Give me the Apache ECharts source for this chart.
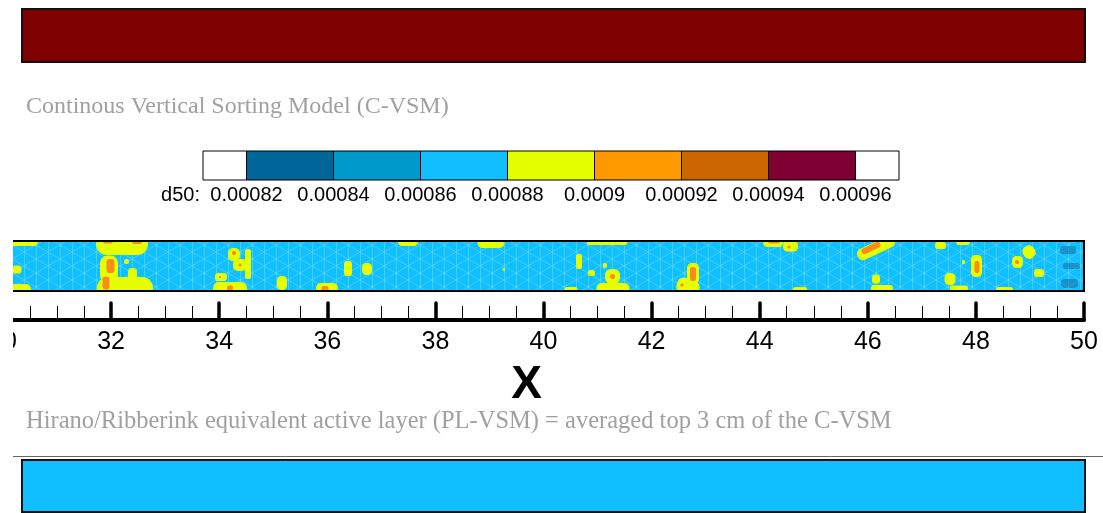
<!DOCTYPE html>
<html><head><meta charset="utf-8">
<script src="https://cdn.jsdelivr.net/npm/echarts@6/dist/echarts.min.js"></script>
<style>html,body{margin:0;padding:0;background:#fff}#c{width:1103px;height:513px}</style>
</head><body><div id="c"></div>
<script>
// ---- data ----
const binEdges = [0.00081, 0.00082, 0.00084, 0.00086, 0.00088, 0.00090, 0.00092, 0.00094, 0.00096, 0.00097];
const binColors = ['#ffffff', '#006699', '#0099cc', '#11bfff', '#e5ff00', '#ff9900', '#cc6600', '#7f0033', '#ffffff'];
const tickValues = [0.00082, 0.00084, 0.00086, 0.00088, 0.0009, 0.00092, 0.00094, 0.00096];
const tickLabels = ['0.00082', '0.00084', '0.00086', '0.00088', '0.0009', '0.00092', '0.00094', '0.00096'];
const xRange = [30, 50];
const xMajorStep = 2;
const topLayer = [[0, 1]];
const bottomLayer = [[0, 1]];
// patches: [x, yFraction, width(x units), height(fraction), rotation deg]
const yellowPatches = [
  [30.315, 1.0, 0.666, 0.2, 0], [30.24, 0.02, 0.555, 0.24, 0], [30.259, 0.43, 0.167, 0.16, 0],
  [32.202, 0.98, 0.962, 0.52, 0], [31.961, 0.44, 0.333, 0.54, 0], [32.257, 0.02, 1.036, 0.52, 0],
  [32.285, 0.59, 0.093, 0.1, 0], [32.396, 0.35, 0.167, 0.22, 0],
  [34.274, 0.73, 0.222, 0.26, 0], [34.385, 0.52, 0.259, 0.24, 0], [34.533, 0.54, 0.111, 0.6, 0],
  [34.033, 0.28, 0.222, 0.16, 0], [34.2, 0.04, 0.629, 0.28, 0], [35.162, 0.16, 0.185, 0.28, 0],
  [35.994, 0.04, 0.407, 0.24, 0], [37.493, 1.0, 0.37, 0.2, 0], [36.383, 0.45, 0.148, 0.3, 0],
  [36.735, 0.44, 0.185, 0.24, 0], [39.269, 0.43, 0.046, 0.06, 0], [39.029, 0.98, 0.5, 0.24, 0],
  [41.175, 1.0, 0.759, 0.16, 0], [40.657, 0.59, 0.111, 0.3, 0], [40.888, 0.36, 0.13, 0.12, 0],
  [41.138, 0.51, 0.074, 0.1, 0], [41.277, 0.29, 0.278, 0.3, 0], [41.286, 0.04, 0.611, 0.24, 0],
  [40.509, 0.02, 0.241, 0.12, 0], [42.766, 0.35, 0.222, 0.42, 0], [42.673, 0.08, 0.426, 0.32, -20],
  [44.246, 0.98, 0.37, 0.2, 0], [44.57, 0.9, 0.278, 0.22, 0], [44.746, 0.02, 0.259, 0.12, 0],
  [46.152, 0.86, 0.74, 0.24, 25], [47.345, 0.91, 0.204, 0.14, 0], [47.761, 1.0, 0.259, 0.16, 0],
  [48.011, 0.5, 0.204, 0.44, 0], [47.771, 0.58, 0.056, 0.08, 0], [46.152, 0.24, 0.148, 0.18, 0],
  [46.263, 0.04, 0.407, 0.16, 0], [47.521, 0.24, 0.204, 0.24, 0], [47.687, 0.06, 0.333, 0.1, 0],
  [48.529, 0.02, 0.315, 0.12, 0], [48.77, 0.58, 0.204, 0.24, 0], [48.983, 0.78, 0.222, 0.26, 35],
  [49.168, 0.36, 0.185, 0.16, 0]
];
const orangePatches = [
  [31.943, 1.0, 0.185, 0.1, 0], [32.479, 1.0, 0.185, 0.12, 0], [31.989, 0.5, 0.148, 0.28, 0],
  [31.906, 0.16, 0.13, 0.26, 0], [34.274, 0.76, 0.074, 0.08, 0], [34.385, 0.52, 0.056, 0.06, 0],
  [34.015, 0.28, 0.037, 0.04, 0], [34.2, 0.06, 0.111, 0.1, 0], [35.957, 0.04, 0.13, 0.12, 0],
  [41.277, 0.29, 0.093, 0.1, 0], [42.766, 0.34, 0.111, 0.28, 0], [42.562, 0.12, 0.056, 0.06, 0],
  [44.265, 1.0, 0.222, 0.1, 0], [44.542, 0.88, 0.056, 0.06, 0], [46.059, 0.86, 0.37, 0.12, 25],
  [48.02, 0.48, 0.093, 0.24, 0], [48.76, 0.58, 0.074, 0.08, 0]
];
const shadePatches = [
  [49.704, 0.82, 0.296, 0.16, 0], [49.769, 0.5, 0.315, 0.12, 0], [49.732, 0.15, 0.315, 0.18, 0]
];

// ---- rendering helpers ----
function meshPattern() {
  const c = document.createElement('canvas');
  c.width = 24; c.height = 14;
  const g = c.getContext('2d');
  g.fillStyle = '#10bfff'; g.fillRect(0, 0, 24, 14);
  g.strokeStyle = 'rgba(135,222,255,0.45)'; g.lineWidth = 1;
  g.beginPath();
  g.moveTo(0.5, 0); g.lineTo(0.5, 14);
  g.moveTo(12.5, 0); g.lineTo(12.5, 14);
  g.moveTo(0, 0); g.lineTo(12, 7); g.lineTo(24, 0);
  g.moveTo(0, 14); g.lineTo(12, 7); g.lineTo(24, 14);
  g.stroke();
  return c;
}
const mesh = meshPattern();

function spanRect(fill, stroke, lw) {
  return function (params, api) {
    const p0 = api.coord([api.value(0), 1]);
    const p1 = api.coord([api.value(1), 0]);
    return {
      type: 'rect',
      shape: { x: p0[0], y: p0[1], width: p1[0] - p0[0], height: p1[1] - p0[1] },
      style: { fill: fill, stroke: stroke, lineWidth: lw }
    };
  };
}
function patchRender(color) {
  return function (params, api) {
    const c = api.coord([api.value(0), api.value(1)]);
    const s = api.size([api.value(2), api.value(3)]);
    const w = s[0], h = s[1];
    return {
      type: 'rect', x: c[0], y: c[1], rotation: api.value(4) * Math.PI / 180,
      shape: { x: -w / 2, y: -h / 2, width: w, height: h, r: Math.min(w, h) * 0.42 },
      style: { fill: color }
    };
  };
}

const binData = binColors.map((col, i) => [binEdges[i], binEdges[i + 1], i]);

const hidden = { show: false };
const g = (o) => Object.assign({ outerBoundsMode: 'none', containLabel: false }, o);
const option = {
  animation: false,
  backgroundColor: '#ffffff',
  grid: [
    g({ left: 22, top: 9, width: 1063, height: 53 }),
    g({ left: 203, top: 151, width: 696, height: 29 }),
    g({ left: 3, top: 241, width: 1081, height: 50 }),
    g({ left: 22, top: 460, width: 1063, height: 52 })
  ],
  xAxis: [
    { gridIndex: 0, type: 'value', min: 0, max: 1, show: false },
    {
      gridIndex: 1, type: 'value', min: binEdges[0], max: binEdges[binEdges.length - 1],
      axisLine: hidden, axisTick: hidden, splitLine: hidden,
      axisLabel: {
        customValues: tickValues, margin: 5, fontSize: 20, color: '#000', fontFamily: 'Liberation Sans',
        formatter: v => { const i = tickValues.findIndex(t => Math.abs(t - v) < 1e-9); return i >= 0 ? tickLabels[i] : ''; }
      }
    },
    {
      gridIndex: 2, type: 'value', min: xRange[0], max: xRange[1], interval: xMajorStep,
      position: 'bottom', offset: 29,
      axisLine: { show: true, onZero: false, lineStyle: { color: '#000', width: 4 } },
      axisTick: { show: true, inside: true, length: 17, lineStyle: { color: '#000', width: 3.5, cap: 'round' } },
      minorTick: { show: true, splitNumber: 4, length: 14, lineStyle: { color: '#000', width: 1 } },
      splitLine: hidden, minorSplitLine: hidden,
      axisLabel: { fontSize: 25, margin: 10, color: '#000', fontFamily: 'Liberation Sans' },
      name: 'X', nameLocation: 'middle', nameGap: 42,
      nameTextStyle: { fontSize: 46, fontWeight: 'bold', color: '#000', fontFamily: 'Liberation Sans', padding: [0, 34, 0, 0] }
    },
    { gridIndex: 3, type: 'value', min: 0, max: 1, show: false }
  ],
  yAxis: [0, 1, 2, 3].map(i => ({ gridIndex: i, type: 'value', min: 0, max: 1, show: false })),
  series: [
    { type: 'custom', xAxisIndex: 0, yAxisIndex: 0, data: topLayer, renderItem: spanRect('#7f0000', '#111', 2) },
    { type: 'custom', xAxisIndex: 1, yAxisIndex: 1, data: binData,
      renderItem: (params, api) => spanRect(binColors[api.value(2)], '#000', 1)(params, api) },
    { type: 'custom', xAxisIndex: 2, yAxisIndex: 2, data: [xRange], clip: true,
      renderItem: spanRect({ image: mesh, repeat: 'repeat' }, null, 0) },
    { type: 'custom', xAxisIndex: 2, yAxisIndex: 2, data: shadePatches, clip: true, renderItem: patchRender('rgba(30,110,160,0.55)') },
    { type: 'custom', xAxisIndex: 2, yAxisIndex: 2, data: yellowPatches, clip: true, renderItem: patchRender('#e5ff00') },
    { type: 'custom', xAxisIndex: 2, yAxisIndex: 2, data: orangePatches, clip: true, renderItem: patchRender('#fb8c1a') },
    { type: 'custom', xAxisIndex: 2, yAxisIndex: 2, data: [xRange], z: 5, renderItem: spanRect('none', '#000', 2) },
    { type: 'custom', xAxisIndex: 3, yAxisIndex: 3, data: bottomLayer, renderItem: spanRect('#0fbfff', '#111', 2) }
  ],
  graphic: [
    { type: 'text', x: 26, y: 107, style: { text: 'Continous Vertical Sorting Model (C-VSM)', fill: '#a0a0a0', font: '24px "Liberation Serif"', verticalAlign: 'middle' } },
    { type: 'text', x: 26, y: 422, style: { text: 'Hirano/Ribberink equivalent active layer (PL-VSM) = averaged top 3 cm of the C-VSM', fill: '#a0a0a0', font: '24.5px "Liberation Serif"', verticalAlign: 'middle' } },
    { type: 'text', x: 200, y: 195, style: { text: 'd50:', fill: '#000', font: '20px "Liberation Sans"', align: 'right', verticalAlign: 'middle' } },
    { type: 'line', shape: { x1: 13, y1: 456.5, x2: 1103, y2: 456.5 }, style: { stroke: '#666', lineWidth: 1 } },
    { type: 'rect', z: 100, shape: { x: 0, y: 225, width: 13, height: 140 }, style: { fill: '#ffffff' } }
  ]
};
const chart = echarts.init(document.getElementById('c'), null, { renderer: 'canvas' });
chart.setOption(option);
</script></body></html>
